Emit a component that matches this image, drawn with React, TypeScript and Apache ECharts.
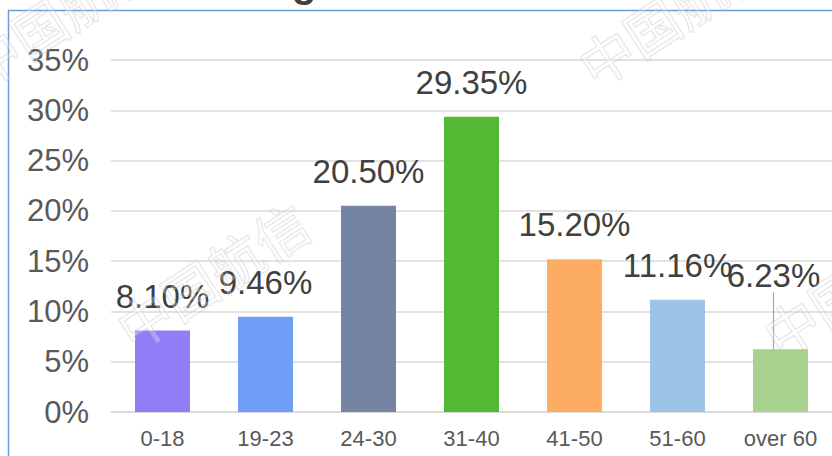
import React, { useEffect, useRef } from "react";
import * as echarts from "echarts";

const categories = ["0-18", "19-23", "24-30", "31-40", "41-50", "51-60", "over 60"];
const shares = [8.1, 9.46, 20.5, 29.35, 15.2, 11.16, 6.23];
const barColors = ["#917ef6", "#6f9df7", "#7484a2", "#54b835", "#fdad62", "#9dc3e6", "#a8d18e"];
const yTicks = { min: 0, max: 35, interval: 5 };
const titleText = "Age";
const watermarkText = "中国航信";

export default function App() {
  const ref = useRef<HTMLDivElement>(null);
  useEffect(() => {
    document.body.style.margin = "0";
    const chart = echarts.init(ref.current!, null, { renderer: "svg" });
    const font = "'Liberation Sans', Arial, sans-serif";
    const rot = (33 * Math.PI) / 180;
    const wm = (x: number, y: number) => ({
      type: "text",
      x,
      y,
      rotation: rot,
      z: 100,
      silent: true,
      style: {
        text: watermarkText,
        fontSize: 54,
        fontFamily: "'Noto Sans CJK SC', sans-serif",
        fill: "rgba(255,255,255,0.25)",
        stroke: "rgba(175,175,175,0.3)",
        lineWidth: 1.5,
        textAlign: "left",
        textVerticalAlign: "middle",
      },
    });
    chart.setOption({
      animation: false,
      backgroundColor: "#ffffff",
      textStyle: { fontFamily: font },
      grid: { left: 111, right: -5, top: 60, bottom: 44, containLabel: false },
      xAxis: {
        type: "category",
        data: categories,
        axisLine: { show: true, lineStyle: { color: "#d9d9d9", width: 1.5 } },
        axisTick: { show: false },
        axisLabel: { color: "#595959", fontSize: 22, margin: 15, fontFamily: font },
      },
      yAxis: {
        type: "value",
        min: yTicks.min,
        max: yTicks.max,
        interval: yTicks.interval,
        axisLine: { show: false },
        axisTick: { show: false },
        axisLabel: { color: "#595959", fontSize: 31, margin: 22, formatter: "{value}%", fontFamily: font },
        splitLine: { lineStyle: { color: "#d9d9d9", width: 1.5 } },
      },
      series: [
        {
          type: "bar",
          barWidth: 55,
          data: shares.map((v, i) => ({
            value: v,
            itemStyle: { color: barColors[i] },
            labelLine: { show: i === shares.length - 1, lineStyle: { color: "#a6a6a6", width: 1.2 } },
          })),
          label: {
            show: true,
            position: "top",
            distance: 18,
            fontSize: 33,
            color: "#404040",
            fontFamily: font,
            formatter: (p: any) => p.value.toFixed(2) + "%",
          },
          labelLine: { show: false },
          labelLayout: (p: any) => (p.dataIndex === shares.length - 1 ? { dx: -7, dy: -39 } : {}),
        },
      ],
      graphic: [
        {
          type: "rect",
          silent: true,
          z: -1,
          shape: { x: 8.5, y: 10.5, width: 900, height: 600 },
          style: { fill: "none", stroke: "#6a9fd6", lineWidth: 1.5 },
        },
        {
          type: "text",
          x: 263,
          y: -17,
          silent: true,
          style: {
            text: titleText,
            fontSize: 40,
            fontWeight: "bold",
            fontFamily: font,
            fill: "#404040",
            textAlign: "left",
            textVerticalAlign: "middle",
          },
        },
        wm(121, 333),
        wm(583, 70),
        wm(768, 340),
        wm(-30, 71),
      ],
    });
    return () => chart.dispose();
  }, []);
  return <div ref={ref} style={{ width: 832, height: 456 }} />;
}
